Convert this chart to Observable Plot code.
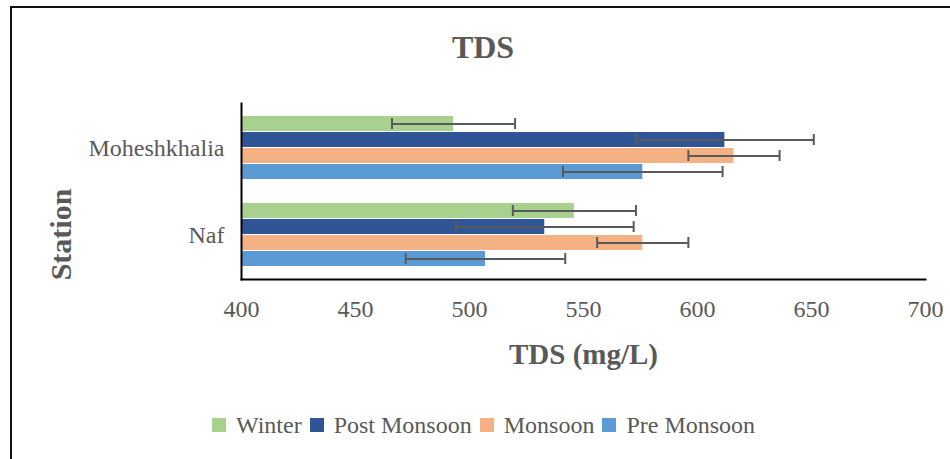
<!DOCTYPE html>
<html>
<head>
<meta charset="utf-8">
<script src="https://cdn.jsdelivr.net/npm/d3@7"></script>
<script src="https://cdn.jsdelivr.net/npm/@observablehq/plot@0.6"></script>
<style>
  html, body { margin: 0; padding: 0; background: #fff; }
  body { width: 950px; height: 459px; overflow: hidden; position: relative; font-family: "Liberation Serif", "Times New Roman", serif; color: #595959; }
  #border { position: absolute; left: 10px; top: 6px; width: 1000px; height: 500px; border-left: 2px solid #111; border-top: 2px solid #111; }
  #title { position: absolute; left: 383px; width: 200px; top: 31px; text-align: center; font-weight: bold; font-size: 32px; line-height: 32px; }
  #chart { position: absolute; left: 0; top: 90px; }
  #legend { position: absolute; left: 212px; top: 413px; height: 24px; display: flex; align-items: center; font-size: 24px; line-height: 24px; white-space: nowrap; }
  .item { display: flex; align-items: center; margin-right: 8px; }
  .sw { width: 14px; height: 14px; margin-right: 10px; }
</style>
</head>
<body>
<div id="border"></div>
<div id="title">TDS</div>
<div id="chart"></div>
<div id="legend"></div>
<script>
const stations = ["Moheshkhalia", "Naf"];
const seasons = ["Winter", "Post Monsoon", "Monsoon", "Pre Monsoon"];
const colors = ["#A9D18E", "#2F5597", "#F4B183", "#5B9BD5"];
// values per season, in station order
const winter = [493, 546];
const postMonsoon = [612, 533];
const monsoon = [616, 576];
const preMonsoon = [576, 507];
// error (±) per season, in station order
const winterErr = [27, 27];
const postMonsoonErr = [39, 39];
const monsoonErr = [20, 20];
const preMonsoonErr = [35, 35];
const xTicks = [400, 450, 500, 550, 600, 650, 700];

const seriesValues = [winter, postMonsoon, monsoon, preMonsoon];
const seriesErr = [winterErr, postMonsoonErr, monsoonErr, preMonsoonErr];

const rows = [];
seasons.forEach((s, i) => stations.forEach((st, j) => {
  rows.push({season: s, si: i, station: st, value: seriesValues[i][j], err: seriesErr[i][j]});
}));

const W = 950, H = 300;
const bandwidth = 64; // y band (see paddings)
const sub = bandwidth / seasons.length;
const capH = 12;

const marks = [];
seasons.forEach((s, i) => {
  const d = rows.filter(r => r.si === i);
  marks.push(Plot.barX(d, {
    y: "station", x1: 400, x2: "value", fill: colors[i],
    insetTop: i * sub, insetBottom: bandwidth - (i + 1) * sub
  }));
});
seasons.forEach((s, i) => {
  const d = rows.filter(r => r.si === i);
  const off = i * sub + sub / 2 - bandwidth / 2;
  const capOpts = {insetTop: i * sub + (sub - capH) / 2, insetBottom: bandwidth - (i * sub + (sub + capH) / 2), stroke: "#595959", strokeWidth: 2};
  marks.push(Plot.ruleY(d, {y: "station", x1: r => r.value - r.err, x2: r => r.value + r.err, dy: off, stroke: "#595959", strokeWidth: 2}));
  marks.push(Plot.tickX(d, {y: "station", x: r => r.value - r.err, ...capOpts}));
  marks.push(Plot.tickX(d, {y: "station", x: r => r.value + r.err, ...capOpts}));
});

const plot = Plot.plot({
  width: W, height: H,
  marginTop: 13, marginBottom: 111, marginLeft: 241, marginRight: 25,
  style: {fontFamily: "'Liberation Serif', 'Times New Roman', serif", color: "#595959", background: "transparent"},
  x: {domain: [400, 700], ticks: xTicks},
  y: {domain: stations, paddingInner: 0.2727, paddingOuter: 0.1364},
  marks: [
    ...marks,
    Plot.frame({anchor: "left", stroke: "#000", strokeWidth: 2}),
    Plot.frame({anchor: "bottom", stroke: "#000", strokeWidth: 2}),
    Plot.axisX({ticks: xTicks, tickSize: 0, tickPadding: 20, fontSize: 24, fill: "#595959", label: null, tickFormat: d => String(d)}),
    Plot.axisY({tickSize: 0, tickPadding: 17, fontSize: 24, fill: "#595959", label: null}),
    Plot.text(["TDS (mg/L)"], {frameAnchor: "bottom", dy: 75, fontSize: 29, fontWeight: "bold", fill: "#595959", lineAnchor: "middle", textAnchor: "middle"}),
    Plot.text(["Station"], {frameAnchor: "left", dx: -180, dy: 43, rotate: -90, fontSize: 30, fontWeight: "bold", fill: "#595959", lineAnchor: "middle", textAnchor: "middle"})
  ]
});
document.getElementById("chart").appendChild(plot);

const legend = document.getElementById("legend");
seasons.forEach((s, i) => {
  const it = document.createElement("div");
  it.className = "item";
  const sw = document.createElement("div");
  sw.className = "sw";
  sw.style.background = colors[i];
  const t = document.createElement("span");
  t.textContent = s;
  it.appendChild(sw); it.appendChild(t);
  legend.appendChild(it);
});
</script>
</body>
</html>
